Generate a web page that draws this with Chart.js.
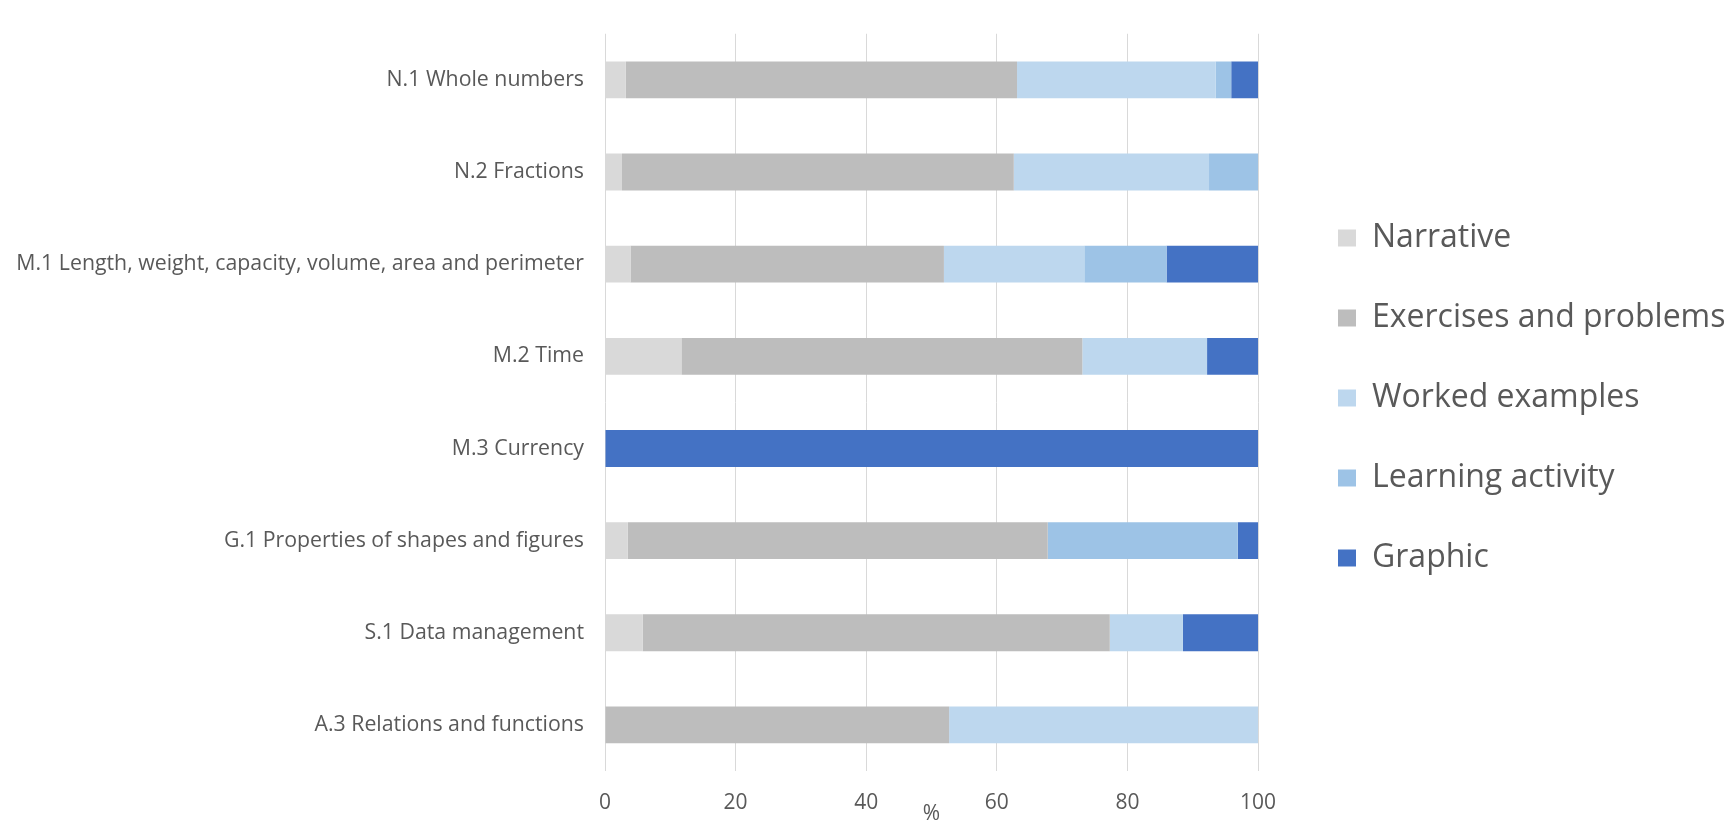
<!DOCTYPE html>
<html>
<head>
<meta charset="utf-8">
<title>Content types by topic</title>
<script src="https://cdn.jsdelivr.net/npm/chart.js@4/dist/chart.umd.min.js"></script>
<style>
    html, body { margin: 0; padding: 0; background: #ffffff; }
    #chartBox { position: relative; width: 1731px; height: 825px; }
</style>
</head>
<body>
<div id="chartBox"><canvas id="topicChart"></canvas></div>
<script>
// Topics, top to bottom
const topics = [
    'N.1 Whole numbers',
    'N.2 Fractions',
    'M.1 Length, weight, capacity, volume, area and perimeter',
    'M.2 Time',
    'M.3 Currency',
    'G.1 Properties of shapes and figures',
    'S.1 Data management',
    'A.3 Relations and functions'
];

// Share of each content type per topic (%)
const narrative = [3.2, 2.6, 3.9, 11.7, 0, 3.5, 5.8, 0];
const exercises = [59.9, 60.0, 48.0, 61.4, 0, 64.3, 71.5, 52.7];
const workedExamples = [30.4, 29.9, 21.5, 19.1, 0, 0, 11.2, 47.3];
const learningActivity = [2.4, 7.5, 12.6, 0, 0, 29.1, 0, 0];
const graphic = [4.1, 0, 14.0, 7.8, 100, 3.1, 11.5, 0];

const seriesNames = ['Narrative', 'Exercises and problems', 'Worked examples', 'Learning activity', 'Graphic'];
const seriesColors = ['#D9D9D9', '#BDBDBD', '#BDD7EE', '#9DC3E6', '#4472C4'];
const xTicks = [0, 20, 40, 60, 80, 100];

const textColor = '#595959';
Chart.defaults.font.family = "'Open Sans', sans-serif";
Chart.defaults.color = textColor;

const seriesValues = [narrative, exercises, workedExamples, learningActivity, graphic];

const datasets = seriesNames.map((name, i) => ({
    label: name,
    data: seriesValues[i],
    backgroundColor: seriesColors[i],
    borderWidth: 0,
    xAxisID: 'x',
    yAxisID: 'y',
    categoryPercentage: 1.0,
    barPercentage: 0.4
}));

new Chart(document.getElementById('topicChart'), {
    type: 'bar',
    data: { labels: topics, datasets: datasets },
    options: {
        indexAxis: 'y',
        responsive: true,
        maintainAspectRatio: false,
        animation: false,
        layout: { padding: { top: 10, left: 0, right: 0, bottom: 0 } },
        scales: {
            x: {
                stacked: true,
                min: 0,
                max: 100,
                afterBuildTicks: (scale) => { scale.ticks = xTicks.map(v => ({ value: v })); },
                afterFit: (scale) => { scale.height = 54; },
                grid: { color: '#D9D9D9', lineWidth: 1, drawTicks: false },
                border: { display: false },
                ticks: { padding: 19, color: textColor, font: { size: 21 } },
                title: {
                    display: true,
                    text: '%',
                    color: textColor,
                    font: { size: 21 },
                    padding: { top: 0, bottom: -2 }
                }
            },
            y: {
                stacked: true,
                afterFit: (scale) => { scale.width = 605; },
                grid: { display: false, drawTicks: false },
                border: { display: false },
                ticks: { padding: 21, color: textColor, font: { size: 21.3 } }
            },
            // empty spacer between the plot and the legend
            gap: {
                axis: 'y',
                position: 'right',
                display: true,
                afterFit: (scale) => { scale.width = 32; },
                grid: { display: false },
                border: { display: false },
                ticks: { display: false }
            }
        },
        plugins: {
            legend: {
                position: 'right',
                align: 'start',
                maxWidth: 441,
                title: { display: true, text: ' ', font: { size: 20 }, padding: { top: 140, bottom: 0 } },
                labels: {
                    boxWidth: 18,
                    boxHeight: 17,
                    padding: 48,
                    color: textColor,
                    font: { size: 32 }
                }
            },
            tooltip: {
                callbacks: {
                    label: (ctx) => ctx.dataset.label + ': ' + ctx.parsed.x + '%'
                }
            }
        }
    }
});
</script>
</body>
</html>
